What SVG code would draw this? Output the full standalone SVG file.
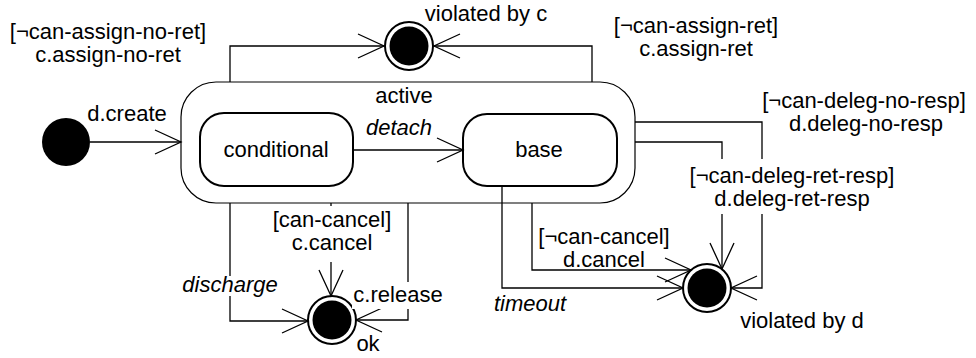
<svg xmlns="http://www.w3.org/2000/svg" width="976" height="358" viewBox="0 0 976 358">
<style>
text{font-family:"Liberation Sans",Arial,sans-serif;font-size:22px;fill:#000;text-anchor:middle}
.it{font-style:italic}
.st{fill:#fff;stroke:#000;stroke-width:2}
.outer{fill:#fff;stroke:#000;stroke-width:1.2}
.c{fill:none;stroke:#000;stroke-width:1.3}
.bg{fill:#fff;stroke:none}
</style>
<defs>
<marker id="ah" markerUnits="userSpaceOnUse" markerWidth="30" markerHeight="30" refX="0" refY="0" viewBox="-28 -14 30 28" orient="auto" overflow="visible">
<path d="M-26,-12 L0,0 L-26,12" fill="none" stroke="#000" stroke-width="1.3"/>
</marker>
</defs>
<g id="active">
<rect class="outer" x="181" y="82" width="454" height="121" rx="35"/>
<text x="404" y="103">active</text>
</g>
<g id="conditional">
<rect class="st" x="200" y="113" width="153" height="73" rx="24"/>
<text x="276" y="157">conditional</text>
</g>
<g id="base">
<rect class="st" x="463" y="114" width="154" height="72" rx="24"/>
<text x="539" y="157">base</text>
</g>
<g id="initial">
<circle cx="66" cy="142" r="24" fill="#000"/>
</g>
<g id="violated-by-c">
<circle cx="409" cy="46" r="24" fill="#fff" stroke="#000" stroke-width="2"/>
<circle cx="409" cy="46" r="19.5" fill="#000"/>
<text x="486" y="21">violated by c</text>
</g>
<g id="ok">
<circle cx="332" cy="320" r="24" fill="#fff" stroke="#000" stroke-width="2"/>
<circle cx="332" cy="320" r="19.5" fill="#000"/>
<text x="368" y="351">ok</text>
</g>
<g id="violated-by-d">
<circle cx="707" cy="288" r="24" fill="#fff" stroke="#000" stroke-width="2"/>
<circle cx="707" cy="288" r="19.5" fill="#000"/>
<text x="802" y="328">violated by d</text>
</g>
<g id="connectors">
<path class="c" d="M90,142 L181,142" marker-end="url(#ah)"/>
<text x="127" y="121">d.create</text>
<path class="c" d="M353,150 L463,150" marker-end="url(#ah)"/>
<text class="it" x="399" y="135">detach</text>
<path class="c" d="M230,82 L230,46 L384,46" marker-end="url(#ah)"/>
<text x="108" y="39">[¬can-assign-no-ret]</text>
<text x="108" y="62">c.assign-no-ret</text>
<path class="c" d="M592,82 L592,46 L434,46" marker-end="url(#ah)"/>
<text x="696" y="33">[¬can-assign-ret]</text>
<text x="696" y="56">c.assign-ret</text>
<path class="c" d="M635,122 L762,122 L762,288 L731,288" marker-end="url(#ah)"/>
<text x="864" y="108">[¬can-deleg-no-resp]</text>
<text x="866" y="131">d.deleg-no-resp</text>
<path class="c" d="M635,142 L722,142 L722,269" marker-end="url(#ah)"/>
<rect class="bg" x="684" y="159" width="218" height="55"/>
<text x="792" y="183">[¬can-deleg-ret-resp]</text>
<text x="792" y="206">d.deleg-ret-resp</text>
<path class="c" d="M502,186 L502,288 L683,288" marker-end="url(#ah)"/>
<text class="it" x="530" y="311">timeout</text>
<path class="c" d="M532,203 L532,270 L691,270" marker-end="url(#ah)"/>
<text x="604" y="244">[¬can-cancel]</text>
<text x="604" y="267">d.cancel</text>
<path class="c" d="M230,203 L230,321 L308,321" marker-end="url(#ah)"/>
<rect class="bg" x="180" y="276" width="102" height="20"/>
<text class="it" x="230" y="292">discharge</text>
<path class="c" d="M331,203 L331,296" marker-end="url(#ah)"/>
<rect class="bg" x="270" y="206" width="126" height="56"/>
<text x="332" y="227">[can-cancel]</text>
<text x="332" y="250">c.cancel</text>
<path class="c" d="M408,203 L408,320 L356,320" marker-end="url(#ah)"/>
<rect class="bg" x="352" y="282" width="94" height="27"/>
<text x="398" y="302">c.release</text>
</g>
</svg>
